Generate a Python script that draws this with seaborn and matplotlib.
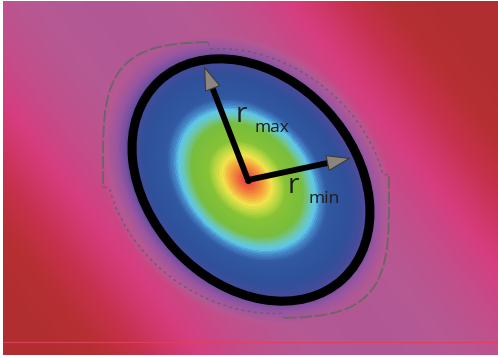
import numpy as np
import matplotlib
matplotlib.use("Agg")
import matplotlib.pyplot as plt
from matplotlib.colors import LinearSegmentedColormap
from matplotlib.patches import Ellipse
import seaborn as sns

W, H = 498, 358
# painted part of the picture, in pixels
area_x = [3, 498]
area_y = [1, 355]

# colour ramp: 0 = hot centre, 1 = black ellipse, >1 = surroundings
ramp_pos = [0.0, 0.07, 0.14, 0.20, 0.26, 0.32, 0.46, 0.52, 0.57, 0.61, 0.67,
            0.85, 0.95, 1.0, 1.1, 1.3, 1.6, 2.0, 2.4, 2.8, 3.4]
ramp_col = ['#e4383a', '#ee6a3c', '#f4a83c', '#f2e24c', '#bcd842', '#86c236',
            '#78bd3c', '#6ec6a8', '#5ec8ea', '#4688c8', '#3158a2', '#2f509a',
            '#414c9a', '#574a9c', '#784fa0', '#9a56a0', '#b65892', '#d63c7e',
            '#c6304c', '#b62f32', '#b02e30']

# field / ellipse geometry
hot_centre = [247, 180]
ell_centre = [251, 180]
ell_axes = [135, 103]        # semi-major, semi-minor
ell_angle = 47               # degrees, major axis (screen, y down)
outer_rate = 3.2
band_angle = 52
band_halfwidth = 145

# dashed outline: rounded box, with two sides pulled in along an ellipse
box_centre = [246, 180]
box_half = [143, 138]
box_power = 4
clip_centre = [246, 181]
clip_axes = [150, 122]
clip_angle = 36
clip_reach = [105, 15]       # where the pulled-in arc stops, and how fast

# arrows and labels
arrow_origin = [248, 180]
arrow_tips = [[204, 66], [351, 158]]
labels = [("r", 236, 122, 20), ("max", 255, 132, 12.5),
          ("r", 288, 193, 20), ("min", 309, 203, 12.5)]

cmap = LinearSegmentedColormap.from_list(
    "glow", list(zip(np.array(ramp_pos) / ramp_pos[-1], ramp_col)))

yy, xx = np.mgrid[0:H, 0:W] + 0.5

# elliptical distance around the hot spot
th = np.deg2rad(ell_angle)
dx, dy = xx - hot_centre[0], yy - hot_centre[1]
u = dx * np.cos(th) + dy * np.sin(th)
v = -dx * np.sin(th) + dy * np.cos(th)
t = np.sqrt((u / ell_axes[0]) ** 2 + (v / ell_axes[1]) ** 2)
ft = np.where(t <= 1, t, 1 + (t - 1) * outer_rate)

# diagonal band of the surroundings
tb = np.deg2rad(band_angle)
p = np.abs(-dx * np.sin(tb) + dy * np.cos(tb))
s = 1.55 + 0.45 * (p / band_halfwidth) ** 2.4

field = np.minimum(ft, s)
outside = (xx < area_x[0]) | (xx > area_x[1]) | (yy < area_y[0]) | (yy > area_y[1])
field[outside] = np.nan

# outline shape
bx = np.abs((xx - box_centre[0]) / box_half[0]) ** box_power
by = np.abs((yy - box_centre[1]) / box_half[1]) ** box_power
box_norm = (bx + by) ** (1 / box_power)
tc = np.deg2rad(clip_angle)
ex, ey = xx - clip_centre[0], yy - clip_centre[1]
cu = ex * np.cos(tc) + ey * np.sin(tc)
cv = -ex * np.sin(tc) + ey * np.cos(tc)
fade = np.exp(-(np.clip(np.abs(cu) - clip_reach[0], 0, None) / clip_reach[1]) ** 2)
clip_norm = np.sqrt((cu / clip_axes[0]) ** 2 * fade + (cv / clip_axes[1]) ** 2)
outline = np.maximum(box_norm, clip_norm)

fig = plt.figure(figsize=(W / 100, H / 100), dpi=100)
ax = fig.add_axes([0, 0, 1, 1])
sns.heatmap(field, ax=ax, cmap=cmap, vmin=0, vmax=ramp_pos[-1], cbar=False,
            xticklabels=False, yticklabels=False, rasterized=True)

ax.axhline(342, xmin=area_x[0] / W, xmax=1, color='#e2405c', lw=0.9, alpha=0.85)

box_part = np.ma.masked_where(clip_norm > box_norm, outline)
clip_part = np.ma.masked_where(clip_norm <= box_norm, outline)
ax.contour(xx, yy, box_part, levels=[1.0], colors=['#6c6468'],
           linewidths=1.3, linestyles=[(0, (7, 1.5))])
ax.contour(xx, yy, clip_part, levels=[1.0], colors=['#6a5a78'],
           linewidths=1.0, linestyles=[(0, (2, 2.5))])

ax.add_patch(Ellipse(ell_centre, 2 * ell_axes[0], 2 * ell_axes[1], angle=ell_angle,
                     fill=False, ec='black', lw=6.5))

for tip in arrow_tips:
    ox, oy = arrow_origin
    d = np.array(tip) - np.array(arrow_origin)
    d = d / np.hypot(*d)
    base = np.array(tip) - d * 22
    ax.plot([ox, base[0] + d[0] * 4], [oy, base[1] + d[1] * 4], color='black',
            lw=4.2, solid_capstyle='butt')
    ax.annotate('', xy=tip, xytext=base,
                arrowprops=dict(arrowstyle='-|>,head_length=1.0,head_width=0.34',
                                mutation_scale=16, shrinkA=0, shrinkB=0,
                                fc='#8c847e', ec='#3e3836', lw=0.8))
ax.plot(*arrow_origin, 'o', color='black', ms=4)

for txt, x, y, size in labels:
    ax.text(x, y, txt, fontsize=size, color='#1c1c1c', family='Open Sans',
            ha='left', va='baseline')

ax.set_xlim(0, W)
ax.set_ylim(H, 0)
ax.axis('off')
fig.savefig('out.png', dpi=100)
